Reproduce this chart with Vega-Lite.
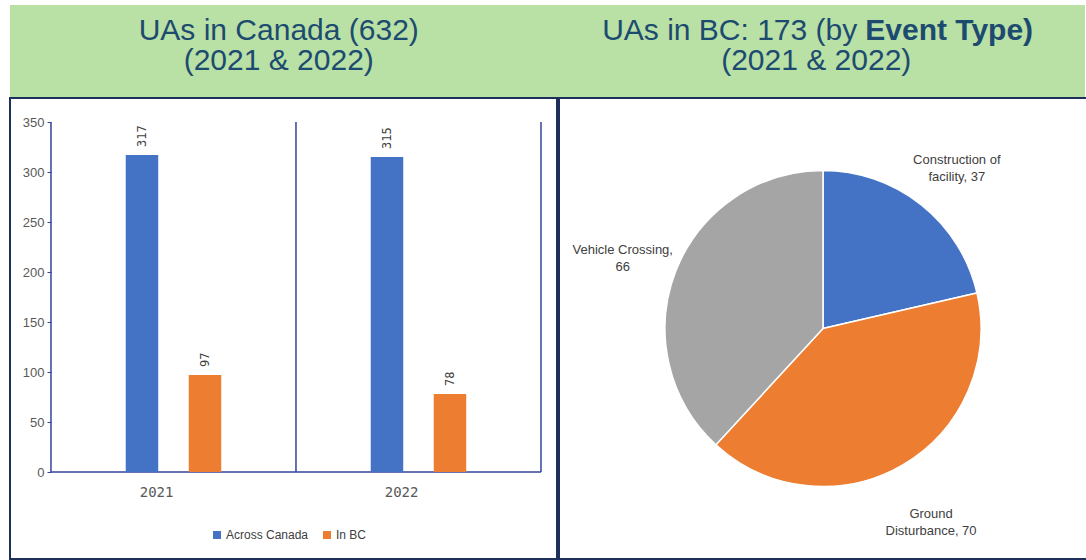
{
  "$schema": "https://vega.github.io/schema/vega-lite/v6.json",
  "padding": {"left": 9, "top": 5, "right": 0, "bottom": 0},
  "background": "white",
  "spacing": 0,
  "config": {"view": {"stroke": null}, "font": "Liberation Sans"},
  "datasets": {
    "titles": [
      {"p": "L", "line": 1, "t": "UAs in Canada (632)", "part": "n"},
      {"p": "L", "line": 2, "t": "(2021 & 2022)", "part": "n"},
      {"p": "R", "line": 1, "t": "UAs in BC: 173 (by", "part": "a"},
      {"p": "R", "line": 1, "t": "Event Type)", "part": "b"},
      {"p": "R", "line": 2, "t": "(2021 & 2022)", "part": "n"}
    ],
    "bars": [
      {"year": "2021", "series": "Across Canada", "v": 317},
      {"year": "2021", "series": "In BC", "v": 97},
      {"year": "2022", "series": "Across Canada", "v": 315},
      {"year": "2022", "series": "In BC", "v": 78}
    ],
    "pie": [
      {"type": "Construction of facility", "n": 37, "label": "Construction of\nfacility, 37"},
      {"type": "Ground Disturbance", "n": 70, "label": "Ground\nDisturbance, 70"},
      {"type": "Vehicle Crossing", "n": 66, "label": "Vehicle Crossing,\n66"}
    ]
  },
  "vconcat": [
    {
      "width": 1075,
      "height": 92,
      "view": {"stroke": null, "fill": "#b9e0a5"},
      "data": {"name": "titles"},
      "encoding": {
        "x": {"field": "p", "type": "nominal", "scale": {"domain": ["L", "R"], "paddingInner": 0, "paddingOuter": 0}, "axis": null},
        "y": {"field": "line", "type": "ordinal", "scale": {"type": "point", "domain": [1, 2], "padding": 1.033, "align": 0.42}, "axis": null},
        "text": {"field": "t"}
      },
      "layer": [
        {"transform": [{"filter": "datum.part == 'n'"}], "mark": {"type": "text", "fontSize": 30, "fill": "#1d4b70", "align": "center", "baseline": "middle"}},
        {"transform": [{"filter": "datum.part == 'a'"}], "mark": {"type": "text", "fontSize": 30, "fill": "#1d4b70", "align": "right", "baseline": "middle", "dx": 41}},
        {"transform": [{"filter": "datum.part == 'b'"}], "mark": {"type": "text", "fontSize": 30, "fontWeight": "bold", "fill": "#1d4b70", "align": "left", "baseline": "middle", "dx": 49}}
      ]
    },
    {
      "spacing": 0,
      "resolve": {"scale": {"color": "independent"}, "legend": {"color": "independent"}},
      "hconcat": [
        {
          "width": 547,
          "height": 461,
          "view": {"stroke": "#1f2f5c", "strokeWidth": 2, "fill": "white"},
          "data": {"name": "bars"},
          "layer": [
            {
              "transform": [{"filter": "datum.series == 'Across Canada'"}],
              "mark": {"type": "rule", "color": "#34449a", "strokeWidth": 1.5},
              "encoding": {
                "x": {"field": "year", "type": "nominal", "bandPosition": 0},
                "y": {"datum": 0},
                "y2": {"datum": 350}
              }
            },
            {
              "transform": [{"filter": "datum.series == 'Across Canada' && datum.year == '2022'"}],
              "mark": {"type": "rule", "color": "#34449a", "strokeWidth": 1.5},
              "encoding": {
                "x": {"field": "year", "type": "nominal", "bandPosition": 1},
                "y": {"datum": 0},
                "y2": {"datum": 350}
              }
            },
            {
              "transform": [{"filter": "datum.series == 'Across Canada'"}],
              "mark": {"type": "rect", "fill": null, "stroke": "#34449a", "strokeWidth": 1},
              "encoding": {
                "x": {"field": "year", "type": "nominal"},
                "y": {"datum": 0},
                "y2": {"datum": 0}
              }
            },
            {
              "mark": {"type": "bar", "width": 32.5},
              "encoding": {
                "x": {"field": "year", "type": "nominal", "scale": {"paddingInner": 0, "paddingOuter": 0.1163, "align": 0.719},
                  "axis": {"orient": "bottom", "offset": -87, "domain": false, "ticks": false, "labelAngle": 0, "labelPadding": 20, "labelFont": "DejaVu Sans Mono", "labelFontSize": 14, "labelColor": "#595959", "title": null}},
                "xOffset": {"field": "series", "type": "nominal", "scale": {"paddingInner": 0.111, "paddingOuter": 1}},
                "y": {"field": "v", "type": "quantitative", "stack": null, "scale": {"domain": [-87, 374], "nice": false, "zero": false},
                  "axis": {"values": [0, 50, 100, 150, 200, 250, 300, 350], "offset": -41, "domain": false, "grid": false, "tickSize": 4, "tickColor": "#34449a", "labelColor": "#595959", "labelFontSize": 13, "labelPadding": 3, "title": null}},
                "y2": {"datum": 0},
                "color": {"field": "series", "type": "nominal", "scale": {"domain": ["Across Canada", "In BC"], "range": ["#4472c4", "#ed7d31"]},
                  "legend": {"orient": "none", "legendX": 201, "legendY": 431, "direction": "horizontal", "title": null, "symbolType": "square", "symbolSize": 64, "symbolStrokeWidth": 0, "labelFontSize": 12, "labelFont": "Liberation Sans Narrow, Liberation Sans", "labelColor": "#404040", "columnPadding": 12, "labelOffset": 3, "padding": 0}}
              }
            },
            {
              "mark": {"type": "text", "angle": 270, "align": "left", "baseline": "middle", "dx": 8, "font": "DejaVu Sans Mono", "fontSize": 12, "fill": "#404040"},
              "encoding": {
                "x": {"field": "year", "type": "nominal"},
                "xOffset": {"field": "series", "type": "nominal"},
                "y": {"field": "v", "type": "quantitative", "stack": null},
                "text": {"field": "v"}
              }
            }
          ]
        },
        {
          "width": 528,
          "height": 461,
          "view": {"stroke": "#1f2f5c", "strokeWidth": 2, "fill": "white"},
          "data": {"name": "pie"},
          "encoding": {"theta": {"field": "n", "type": "quantitative", "stack": true}},
          "layer": [
            {
              "mark": {"type": "arc", "outerRadius": 158, "stroke": "white", "strokeWidth": 1.5},
              "encoding": {
                "color": {"field": "type", "type": "nominal", "scale": {"domain": ["Construction of facility", "Ground Disturbance", "Vehicle Crossing"], "range": ["#4472c4", "#ed7d31", "#a5a5a5"]}, "legend": null}
              }
            },
            {
              "mark": {"type": "text", "radius": 215, "lineBreak": "\n", "fontSize": 13, "font": "Liberation Sans Narrow, Liberation Sans", "fill": "#404040", "align": "center", "baseline": "middle", "lineHeight": 17},
              "encoding": {
                "text": {"field": "label"},
                "detail": {"field": "type"}
              }
            }
          ]
        }
      ]
    }
  ]
}
